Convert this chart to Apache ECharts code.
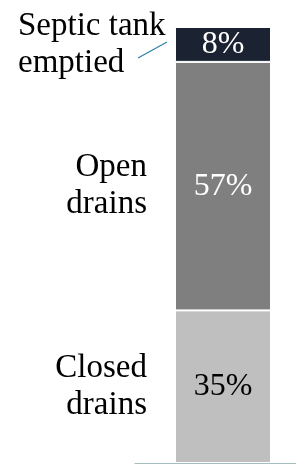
<!DOCTYPE html>
<html>
<head>
<meta charset="utf-8">
<script src="https://cdn.jsdelivr.net/npm/echarts@6/dist/echarts.min.js"></script>
<style>
  html, body { margin: 0; padding: 0; background: #fff; }
  #main { width: 296px; height: 464px; }
</style>
</head>
<body>
<div id="main"></div>
<script>
// data, bottom to top
var categories = ['Wastewater'];
var segmentNames = ['Closed drains', 'Open drains', 'Septic tank emptied'];
var nameLabels = ['Closed\ndrains', 'Open\ndrains', 'Septic tank\nemptied'];
var shares = [35, 57, 8];
var colors = ['#bfbfbf', '#7f7f7f', '#1b2333'];
var valueColors = ['#000000', '#ffffff', '#ffffff'];

var fontFamily = '"Liberation Serif", "DejaVu Serif", serif';
var barWidth = 96;

var series = [];
// the stacked bar itself, with the percent inside
segmentNames.forEach(function (name, i) {
    series.push({
        name: name,
        type: 'bar',
        stack: 'share',
        barWidth: barWidth,
        barGap: '-100%',
        data: [shares[i]],
        itemStyle: { color: colors[i], borderColor: '#ffffff', borderWidth: 1 },
        label: {
            show: true,
            position: 'inside',
            formatter: '{c}%',
            color: valueColors[i],
            fontFamily: fontFamily,
            fontSize: 32
        },
        silent: true
    });
});
// invisible copy of the stack that carries the names on the left
segmentNames.forEach(function (name, i) {
    var label = {
        show: true,
        position: 'left',
        distance: 28,
        align: 'right',
        formatter: nameLabels[i],
        color: '#000000',
        fontFamily: fontFamily,
        fontSize: 33,
        lineHeight: 37
    };
    if (i === 2) {
        // septic tank label sits left of the bar, pointed at with a line
        label.position = [-157, 18];
        label.align = 'left';
        label.verticalAlign = 'middle';
    }
    series.push({
        name: name + ' label',
        type: 'bar',
        stack: 'names',
        barWidth: barWidth,
        barGap: '-100%',
        data: [shares[i]],
        itemStyle: { color: 'rgba(0,0,0,0)' },
        label: label,
        silent: true
    });
});

var myChart = echarts.init(document.getElementById('main'));
var option = {
    animation: false,
    grid: [
        { left: 150, right: 0, top: 27, bottom: 1 },
        // wider grid used only for the baseline
        { left: 135, right: 0, top: 27, bottom: 1 }
    ],
    xAxis: [{
        type: 'category',
        gridIndex: 0,
        data: categories,
        axisLine: { show: false },
        axisTick: { show: false },
        axisLabel: { show: false }
    }, {
        type: 'category',
        gridIndex: 1,
        data: categories,
        axisLine: { show: true, lineStyle: { color: '#a3bfc0', width: 1 } },
        axisTick: { show: false },
        axisLabel: { show: false }
    }],
    yAxis: [{
        type: 'value',
        gridIndex: 0,
        min: 0,
        max: 100,
        show: false,
        splitLine: { show: false }
    }, {
        type: 'value',
        gridIndex: 1,
        min: 0,
        max: 100,
        show: false,
        splitLine: { show: false }
    }],
    series: series
};
myChart.setOption(option);

// leader line from the septic tank label to its segment
var barTop = myChart.convertToPixel({ xAxisIndex: 0, yAxisIndex: 0 }, [0, 100]);
var barLeft = barTop[0] - barWidth / 2;
myChart.setOption({
    graphic: [{
        type: 'line',
        shape: { x1: barLeft - 37, y1: barTop[1] + 31, x2: barLeft - 8, y2: barTop[1] + 15 },
        style: { stroke: '#2d7fa6', lineWidth: 1.2 },
        silent: true
    }]
});
</script>
</body>
</html>
